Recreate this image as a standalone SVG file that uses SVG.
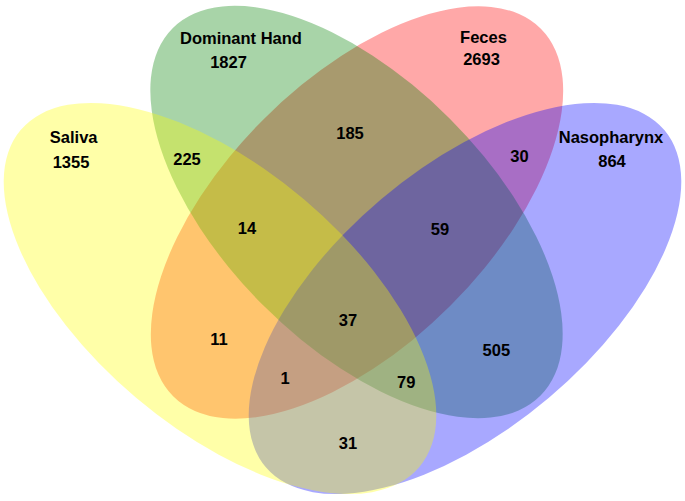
<svg xmlns="http://www.w3.org/2000/svg" width="685" height="501" viewBox="0 0 685 501">
<style>
.set{fill-opacity:0.34;stroke:none}
text{font-family:"Liberation Sans",Arial,sans-serif;font-weight:bold;font-size:16.5px;fill:#000;text-anchor:middle}
</style>
<rect x="0" y="0" width="685" height="501" fill="#ffffff"/>
<g id="feces">
<ellipse class="set" cx="357" cy="212.5" rx="260" ry="132" fill="#FF0000" transform="rotate(-45 357 212.5)"/>
</g>
<g id="dominant-hand">
<ellipse class="set" cx="356.5" cy="212" rx="260" ry="132" fill="#008000" transform="rotate(45 356.5 212)"/>
</g>
<g id="nasopharynx">
<ellipse class="set" cx="465" cy="298.5" rx="261" ry="130" fill="#0000FF" transform="rotate(-40.2 465 298.5)"/>
</g>
<g id="saliva">
<ellipse class="set" cx="220" cy="298.5" rx="261" ry="130" fill="#FFFF00" transform="rotate(40.2 220 298.5)"/>
</g>
<g id="set-labels">
<text x="241" y="44.3">Dominant Hand</text>
<text x="228.5" y="67.7">1827</text>
<text x="483.5" y="42.7">Feces</text>
<text x="481.5" y="65">2693</text>
<text x="73.7" y="143.3">Saliva</text>
<text x="71" y="168.3">1355</text>
<text x="611" y="143.3">Nasopharynx</text>
<text x="612" y="167.3">864</text>
</g>
<g id="region-labels">
<text x="187" y="165.3">225</text>
<text x="350" y="139.3">185</text>
<text x="519.5" y="162">30</text>
<text x="247" y="234">14</text>
<text x="440" y="235">59</text>
<text x="219" y="344.5">11</text>
<text x="348" y="326">37</text>
<text x="496.3" y="356">505</text>
<text x="285" y="384.3">1</text>
<text x="406.3" y="388.3">79</text>
<text x="348" y="448.7">31</text>
</g>
</svg>
